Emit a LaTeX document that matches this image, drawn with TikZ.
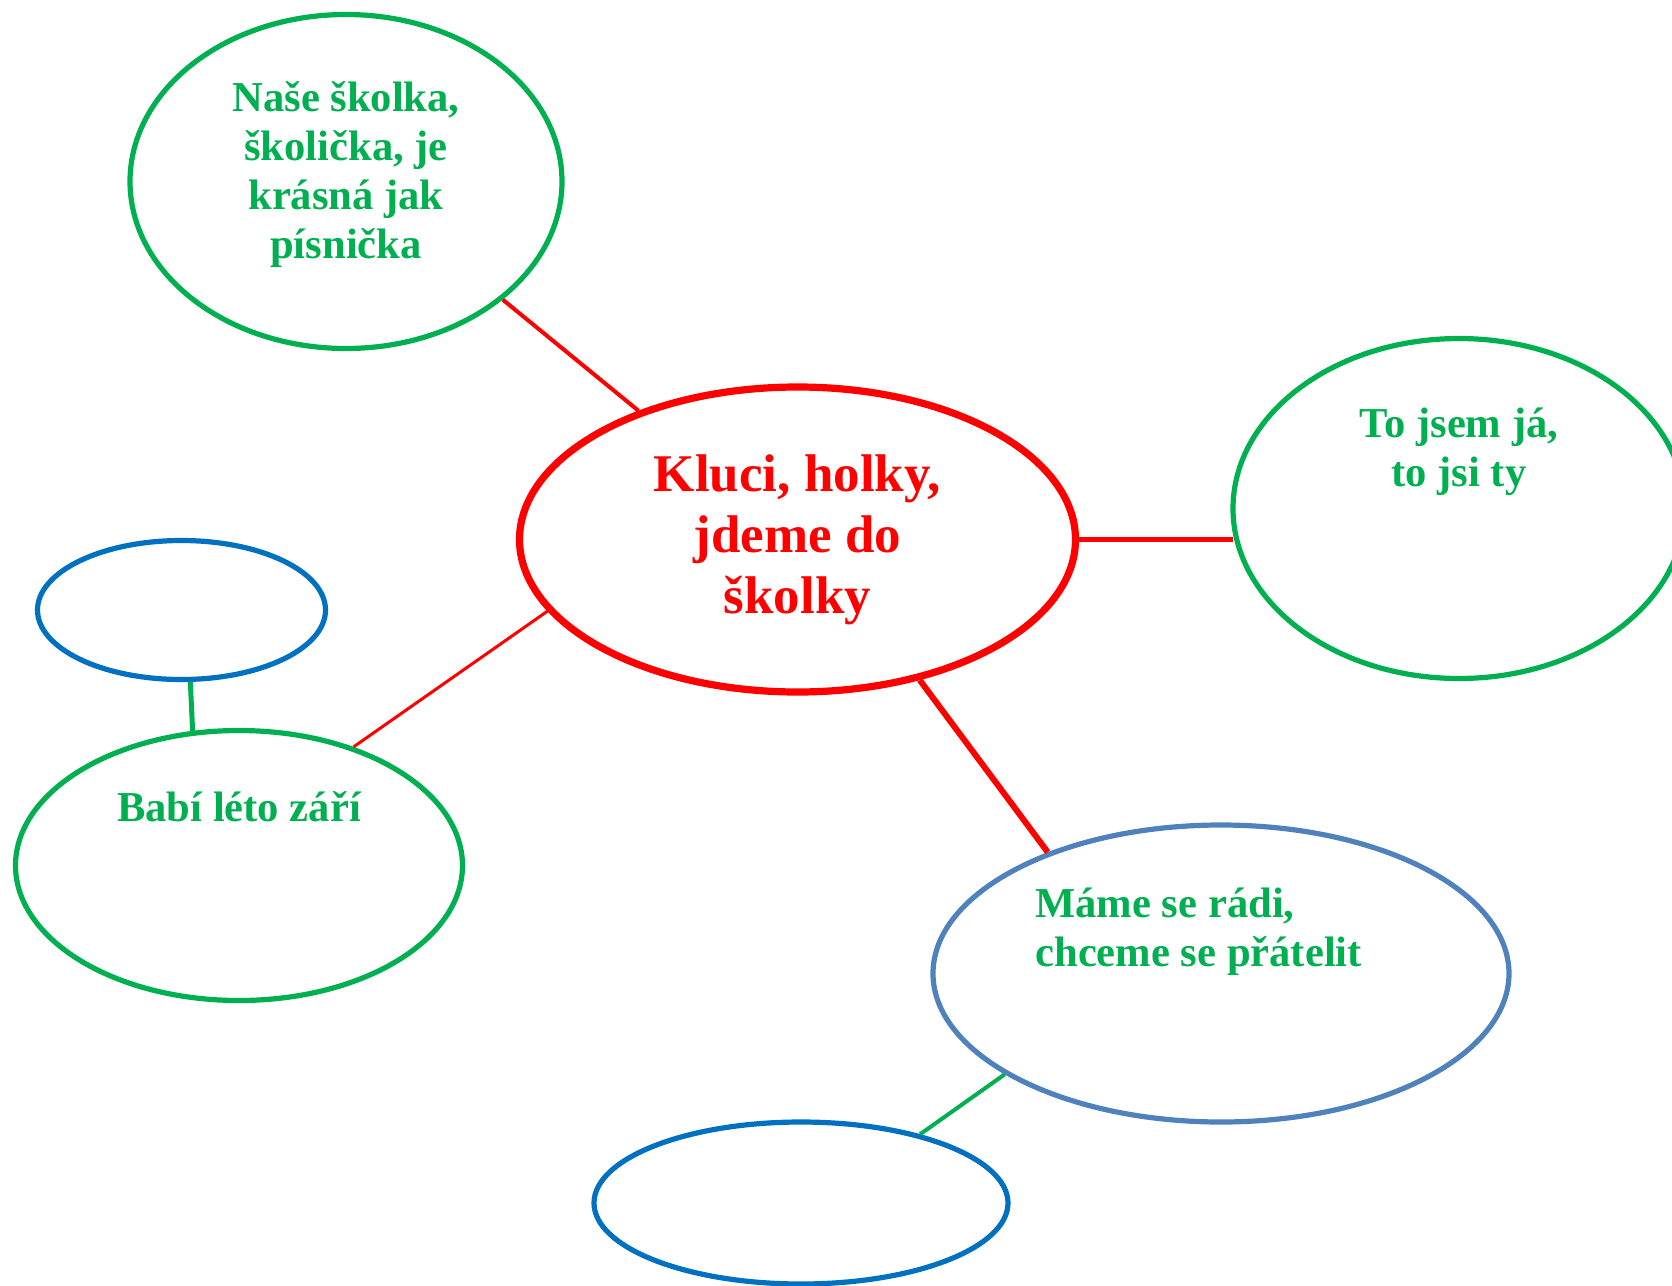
\documentclass[tikz,border=0pt]{standalone}
\usepackage{fontspec}
\setmainfont{Liberation Serif}
\usetikzlibrary{shapes.geometric,positioning}
\definecolor{mapgreen}{RGB}{0,176,80}
\definecolor{mapred}{RGB}{255,0,0}
\definecolor{mapblue}{RGB}{0,112,192}
\definecolor{mapgrey}{RGB}{79,129,189}
\tikzset{bubble/.style={ellipse, draw, inner sep=0pt, line width=2.6pt},
gtext/.style={text=mapgreen, font=\fontsize{21.3}{24.5}\selectfont\bfseries, inner sep=0pt},
redlink/.style={draw=mapred},
greenlink/.style={draw=mapgreen, line width=2.5pt}}

\begin{document}
\begin{tikzpicture}[x=0.5pt,y=-0.5pt]
        \useasboundingbox (0,0) rectangle (1672,1286);
        \node[bubble, draw=mapred, line width=3.6pt, minimum width=278pt, minimum height=152.5pt,
              text=mapred, align=center, font=\fontsize{26.5}{30.5}\selectfont\bfseries] (main) at (797.5,539.5) {Kluci, holky,\\jdeme do\\školky};
        \node[bubble, draw=mapgreen, minimum width=216pt, minimum height=167pt] (school) at (346,181.5) {};
        \node[bubble, draw=mapgreen, minimum width=226pt, minimum height=170pt] (me) at (1459,508.5) {};
        \node[bubble, draw=mapblue, minimum width=144pt, minimum height=69.5pt] (empty1) at (181.5,610) {};
        \node[bubble, draw=mapgreen, minimum width=223.5pt, minimum height=135pt] (autumn) at (239,865.5) {};
        \node[bubble, draw=mapgrey, minimum width=288pt, minimum height=148.5pt] (friends) at (1221,973.5) {};
        \node[bubble, draw=mapblue, minimum width=207pt, minimum height=81pt] (empty2) at (801,1203) {};

        \node[gtext, align=center] (schooltext) at (346,175) {Naše školka,\\školička, je\\krásná jak\\písnička};
        \node[gtext, align=center] (metext) at (1459,452) {To jsem já,\\to jsi ty};
        \node[gtext] (autumntext) at (239,807) {Babí léto září};
        \node[gtext, align=left, anchor=west] (friendstext) at (1035,932) {Máme se rádi,\\chceme se přátelit};

        \draw (main.141) edge[redlink, line width=2pt] (school.-37)
              (main.east) edge[redlink, line width=2.5pt] ([xshift=1.5pt]main.east -| me.west)
              (main.196) edge[redlink, line width=1.5pt] (autumn.46)
              (main.-49) edge[redlink, line width=3pt] (friends.145.7)
              
              (empty1.-83) edge[greenlink] (autumn.109)
              (friends.205) edge[greenlink, line width=2pt] (empty2.30);
    \end{tikzpicture}
\end{document}
